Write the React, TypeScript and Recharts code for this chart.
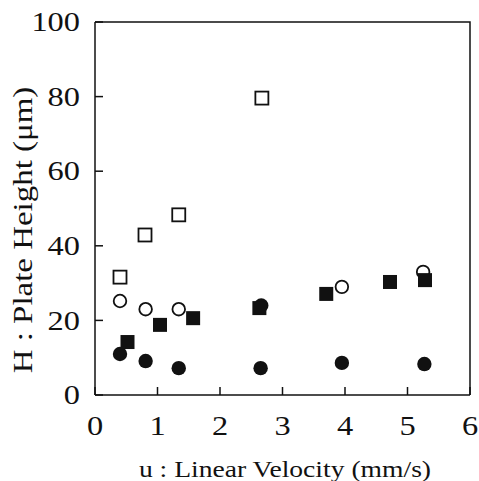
import React from 'react';
import { ScatterChart, Scatter, XAxis, YAxis } from 'recharts';

const xTicks = [0, 1, 2, 3, 4, 5, 6];
const yTicks = [0, 20, 40, 60, 80, 100];

const openSquares = [
  { u: 0.4, h: 31.6 },
  { u: 0.8, h: 42.9 },
  { u: 1.34, h: 48.3 },
  { u: 2.67, h: 79.6 },
];
const openCircles = [
  { u: 0.4, h: 25.2 },
  { u: 0.81, h: 23.0 },
  { u: 1.34, h: 23.0 },
  { u: 3.95, h: 29.0 },
  { u: 5.25, h: 33.0 },
];
const filledCircles = [
  { u: 0.4, h: 11.0 },
  { u: 0.81, h: 9.1 },
  { u: 1.34, h: 7.2 },
  { u: 2.65, h: 7.2 },
  { u: 3.95, h: 8.6 },
  { u: 5.27, h: 8.3 },
  { u: 2.66, h: 24.0 },
];
const filledSquares = [
  { u: 0.52, h: 14.2 },
  { u: 1.04, h: 18.8 },
  { u: 1.57, h: 20.6 },
  { u: 2.63, h: 23.3 },
  { u: 3.7, h: 27.1 },
  { u: 4.72, h: 30.3 },
  { u: 5.28, h: 30.8 },
];

const FONT = 'Liberation Serif';
const INK = '#111';
const MARGIN = { top: 22, right: 9, bottom: 0, left: 0 };

const YTick = (props: any) => {
  const { x, y, payload } = props;
  return (
    <text
      transform={`translate(${x},${y}) scale(1.2,1)`}
      textAnchor="end"
      dy="0.34em"
      fontSize={27}
      fontFamily={FONT}
      fill={INK}
    >
      {payload.value}
    </text>
  );
};

const XTick = (props: any) => {
  const { x, y, payload } = props;
  return (
    <text
      transform={`translate(${x},${y}) scale(1.2,1)`}
      textAnchor="middle"
      dy="1em"
      fontSize={27}
      fontFamily={FONT}
      fill={INK}
    >
      {payload.value}
    </text>
  );
};

// x-axis title, plus the top/right frame of the plot box drawn from the axis viewBox
const XLabel = (props: any) => {
  const vb = props.viewBox;
  const cx = vb.x + vb.width / 2 + 2.5;
  const by = vb.y + 82;
  const top = MARGIN.top;
  const right = vb.x + vb.width;
  return (
    <g>
      <polyline
        points={`${vb.x},${top} ${right},${top} ${right},${vb.y}`}
        fill="none"
        stroke={INK}
        strokeWidth={1.5}
      />
      <text
        transform={`translate(${cx},${by}) scale(1.2,1)`}
        textAnchor="middle"
        fontSize={23}
        fontFamily={FONT}
        fill={INK}
      >
        u : Linear Velocity (mm/s)
      </text>
    </g>
  );
};

const YLabel = (props: any) => {
  const vb = props.viewBox;
  const bx = vb.x + 32;
  const cy = vb.y + 208;
  return (
    <text
      transform={`translate(${bx},${cy}) rotate(-90) scale(1.22,1)`}
      textAnchor="middle"
      fontSize={27}
      fontFamily={FONT}
      fill={INK}
    >
      H : Plate Height (μm)
    </text>
  );
};

const OpenSquare = (p: any) => (
  <rect x={p.cx - 6.5} y={p.cy - 6.5} width={13} height={13} fill="#fff" stroke={INK} strokeWidth={1.8} />
);
const FilledSquare = (p: any) => (
  <rect x={p.cx - 7} y={p.cy - 7} width={14} height={14} fill={INK} stroke="none" />
);
const OpenCircle = (p: any) => (
  <circle cx={p.cx} cy={p.cy} r={6.3} fill="#fff" stroke={INK} strokeWidth={1.8} />
);
const FilledCircle = (p: any) => (
  <circle cx={p.cx} cy={p.cy} r={7.2} fill={INK} stroke="none" />
);

const axisStyle = { stroke: INK, strokeWidth: 1.5 };

export default function App() {
  return (
    <div style={{ position: 'absolute', left: 0, top: 0 }}>
      <ScatterChart width={479} height={481} margin={MARGIN}>
        <XAxis
          type="number"
          dataKey="u"
          domain={[0, 6]}
          ticks={xTicks}
          height={86}
          tickSize={-8}
          tickMargin={21}
          tick={<XTick />}
          axisLine={axisStyle}
          tickLine={axisStyle}
          label={XLabel}
        />
        <YAxis
          type="number"
          dataKey="h"
          domain={[0, 100]}
          ticks={yTicks}
          width={95}
          tickSize={-8}
          tickMargin={23}
          tick={<YTick />}
          axisLine={axisStyle}
          tickLine={axisStyle}
          label={YLabel}
        />
        <Scatter data={openSquares} dataKey="h" shape={OpenSquare} isAnimationActive={false} />
        <Scatter data={openCircles} dataKey="h" shape={OpenCircle} isAnimationActive={false} />
        <Scatter data={filledCircles} dataKey="h" shape={FilledCircle} isAnimationActive={false} />
        <Scatter data={filledSquares} dataKey="h" shape={FilledSquare} isAnimationActive={false} />
      </ScatterChart>
    </div>
  );
}
